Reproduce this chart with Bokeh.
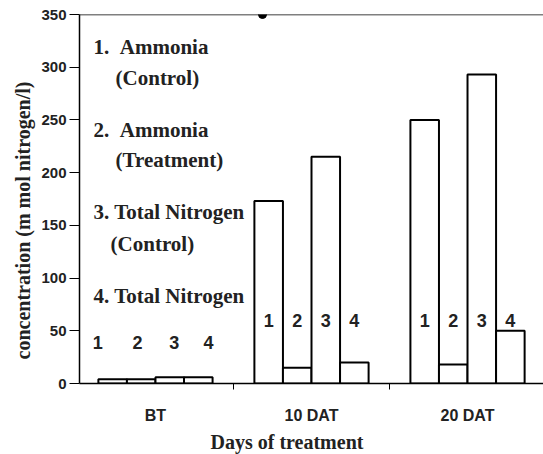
from bokeh.plotting import figure
from bokeh.models import FixedTicker, Span, ColumnDataSource, Title
from bokeh.embed import file_html
from bokeh.resources import INLINE
from bokeh.core.properties import value

# ---- data ----
groups = ["BT", "10 DAT", "20 DAT"]
series_ids = ["1", "2", "3", "4"]
ammonia_control = [4, 173, 250]
ammonia_treatment = [4, 15, 18]
total_nitrogen_control = [6, 215, 293]
total_nitrogen_treatment = [6, 20, 50]
y_ticks = [0, 50, 100, 150, 200, 250, 300, 350]
legend_lines = ["1.\u00a0\u00a0Ammonia", "(Control)", "2.\u00a0\u00a0Ammonia", "(Treatment)",
                "3. Total Nitrogen", "(Control)", "4. Total Nitrogen"]

series_values = [ammonia_control, ammonia_treatment, total_nitrogen_control, total_nitrogen_treatment]

# ---- layout constants ----
bar_w = 0.183
offsets = [-1.5 * bar_w, -0.5 * bar_w, 0.5 * bar_w, 1.5 * bar_w]
bt_label_offsets = [-0.37, -0.115, 0.12, 0.34]
serif = "Liberation Serif"
sans = "Liberation Sans"
ink = "#222222"

p = figure(width=543, height=454, x_range=(0.013, 2.987), y_range=(0, 350),
           output_backend="svg", toolbar_location=None,
           min_border_left=79, min_border_right=0, min_border_top=14, min_border_bottom=65)
p.outline_line_color = None
p.xgrid.visible = False
p.ygrid.visible = False
p.background_fill_color = "white"
p.border_fill_color = "white"

# bars
xs, tops = [], []
for si, vals in enumerate(series_values):
    for gi, v in enumerate(vals):
        xs.append(gi + 0.5 + offsets[si])
        tops.append(v)
src = ColumnDataSource(dict(x=xs, top=tops))
p.vbar(x="x", top="top", bottom=0, width=bar_w, source=src,
       fill_color="white", line_color="black", line_width=2)

# bar numbers
lx, ly, lt = [], [], []
for gi in range(len(groups)):
    for si, sid in enumerate(series_ids):
        if gi == 0:
            lx.append(gi + 0.5 + bt_label_offsets[si]); ly.append(39)
        else:
            lx.append(gi + 0.5 + offsets[si]); ly.append(60)
        lt.append(sid)
p.text(x=lx, y=ly, text=lt, text_font=value(sans), text_font_style="bold",
       text_font_size="18px", text_align="center", text_baseline="middle", text_color=ink)

# legend-like text
leg_x = [0.103, 0.244, 0.103, 0.244, 0.103, 0.212, 0.103]
leg_y = [319, 290, 240, 212, 162.5, 132.5, 83]
p.text(x=leg_x, y=leg_y, text=legend_lines, text_font=value(serif), text_font_style="bold",
       text_font_size="21px", text_align="left", text_baseline="middle", text_color=ink)

# top line and stray dot
p.add_layout(Span(location=350, dimension="width", line_color="black", line_width=1.5))
p.scatter(x=[1.186], y=[350], size=8, color="black")

# axes
p.yaxis.ticker = FixedTicker(ticks=y_ticks)
p.yaxis.major_tick_out = 10
p.yaxis.major_tick_in = 0
p.yaxis.minor_tick_out = 0
p.yaxis.minor_tick_in = 0
p.yaxis.major_label_standoff = 3
p.yaxis.major_label_text_font = sans
p.yaxis.major_label_text_font_style = "bold"
p.yaxis.major_label_text_font_size = "15px"
p.yaxis.major_label_text_color = ink
p.yaxis.axis_line_width = 1.5

p.xaxis.ticker = FixedTicker(ticks=[0.5, 1.5, 2.5], minor_ticks=[1, 2])
p.xaxis.major_label_overrides = {0.5: groups[0], 1.5: groups[1], 2.5: groups[2]}
p.xaxis.major_tick_out = 0
p.xaxis.major_tick_in = 0
p.xaxis.minor_tick_out = 6
p.xaxis.minor_tick_in = 0
p.xaxis.major_label_standoff = 17
p.xaxis.major_label_text_font = sans
p.xaxis.major_label_text_font_style = "bold"
p.xaxis.major_label_text_font_size = "16px"
p.xaxis.major_label_text_color = ink
p.xaxis.axis_line_width = 1.5

# axis titles
p.add_layout(Title(text="Days of treatment", align="left", offset=131, standoff=4,
                   text_font=serif, text_font_style="bold", text_font_size="20px",
                   text_color=ink), "below")
p.add_layout(Title(text="concentration (m mol nitrogen/l)", align="left", offset=24, standoff=10,
                   text_font=serif, text_font_style="bold", text_font_size="20px",
                   text_color=ink), "left")

open("out.html", "w").write(file_html(p, INLINE))
